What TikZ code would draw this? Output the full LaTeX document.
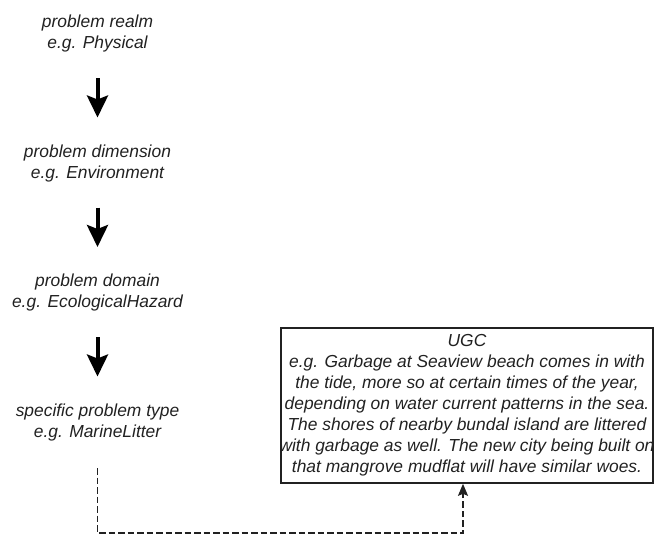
\documentclass[tikz,border=0pt]{standalone}
\usepackage{fontspec}
\setmainfont{Liberation Sans}
\usetikzlibrary{arrows.meta}
\definecolor{ink}{gray}{0.13}
\tikzset{
  level/.style={inner sep=0pt, text=ink, font=\fontsize{17.4}{21}\selectfont\itshape},
  bigarrow/.style={draw=black, line width=4pt, -{Stealth[length=22pt,width=21pt,inset=4pt]}, shorten <=44pt, shorten >=46pt},
  dashconn/.style={draw=ink, line width=1.6pt, dash pattern=on 6.5pt off 3pt, -{Stealth[length=12pt,width=10pt,inset=2pt]}},
  ugcbox/.style={draw=ink, line width=1.6pt, inner sep=0pt, minimum width=372pt, minimum height=155pt, text=ink, font=\fontsize{17.4}{21}\selectfont\itshape}
}
\begin{document}
\begin{tikzpicture}[x=1pt,y=-1pt]
\useasboundingbox (0,0) rectangle (654,536);
\node[level] (realm) at (97.5,34) {\begin{tabular}{@{}c@{}}problem realm\\e.g. Physical\end{tabular}};
\node[level] (dim) at (97.5,163.5) {\begin{tabular}{@{}c@{}}problem dimension\\e.g. Environment\end{tabular}};
\node[level] (dom) at (97.5,293) {\begin{tabular}{@{}c@{}}problem domain\\e.g. EcologicalHazard\end{tabular}};
\node[level] (litter) at (97.5,422.5) {\begin{tabular}{@{}c@{}}specific problem type\\e.g. MarineLitter\end{tabular}};
\node[ugcbox] (ugc) at (467,405.5) {\makebox[360pt][c]{\begin{tabular}{@{}c@{}}UGC\\
e.g. Garbage at Seaview beach comes in with\\
the tide, more so at certain times of the year,\\
depending on water current patterns in the sea.\\
The shores of nearby bundal island are littered\\
with garbage as well. The new city being built on\\
that mangrove mudflat will have similar woes.\end{tabular}}};
\draw[bigarrow] (realm.center) -- (dim.center);
\draw[bigarrow] (dim.center) -- (dom.center);
\draw[bigarrow] (dom.center) -- (litter.center);
\coordinate (turn) at (463,533);
\draw[dashconn, shorten <=45.5pt] (litter.center) |- (turn) -- (ugc.south -| turn);
\end{tikzpicture}
\end{document}
